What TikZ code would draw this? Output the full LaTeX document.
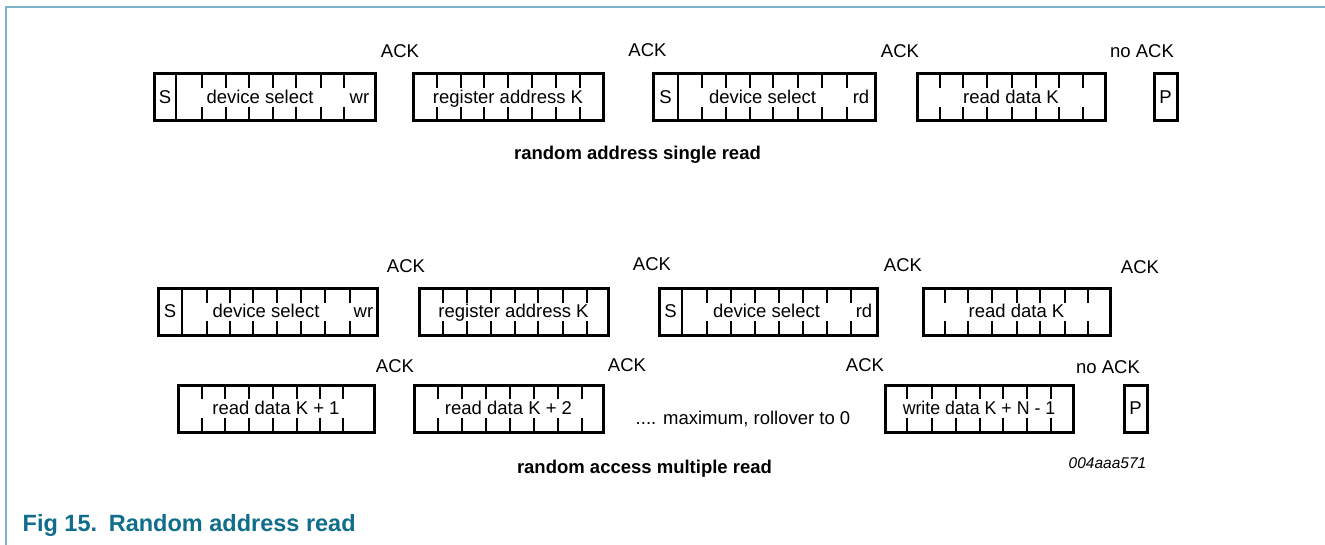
\documentclass[tikz,border=0pt]{standalone}
\usepackage{fontspec}
\setmainfont{Liberation Sans}
\definecolor{framec}{RGB}{125,180,200}
\definecolor{figc}{RGB}{16,110,140}
\newcommand\drawticks[3]{\foreach \xx in {#3}{\draw[divider] (\xx,#1) -- ++(0,14) (\xx,#2) -- ++(0,-14);}}
\begin{document}
\begin{tikzpicture}[x=1pt,y=-1pt,
  fieldbox/.style={draw, line width=3pt, rectangle, inner sep=0pt, outer sep=0pt},
  divider/.style={line width=2.6pt},
  lbl/.style={font=\fontsize{18.5}{22}\selectfont, inner sep=0pt, anchor=base},
  ttl/.style={font=\bfseries\fontsize{18.5}{22}\selectfont, inner sep=0pt, anchor=base},
  code/.style={font=\itshape\fontsize{15.5}{18}\selectfont, inner sep=0pt, anchor=base},
  figttl/.style={font=\bfseries\fontsize{23.5}{28}\selectfont, text=figc, inner sep=0pt, anchor=base west}]
\useasboundingbox (0,0) rectangle (1325,545);
\fill[white] (0,0) rectangle (1325,545);
% frame
\draw[framec, line width=2.2pt] (6,545) -- (6,7) -- (1325,7);

% ---------------- row 1 ----------------
\node[fieldbox, minimum width=221pt, minimum height=47pt] (b11) at (264.5,97.5) {};
\draw[divider] (176,74) -- (176,121);
\drawticks{74}{121}{202,226,249,273,296,321,344}
\node[fieldbox, minimum width=190pt, minimum height=47pt] (b12) at (508,97.5) {};
\drawticks{74}{121}{437,461,484,508,532,556,580}
\node[fieldbox, minimum width=222pt, minimum height=47pt] (b13) at (764,97.5) {};
\draw[divider] (678,74) -- (678,121);
\drawticks{74}{121}{702,726,750,773,798,822,847}
\node[fieldbox, minimum width=188pt, minimum height=47pt] (b14) at (1011,97.5) {};
\drawticks{74}{121}{940,963,987,1012,1036,1059,1083}
\node[fieldbox, minimum width=23pt, minimum height=47pt] (p1) at (1165.5,97.5) {};

\node[lbl] (t11s) at (165,103.5) {S};
\node[lbl] (t11d) at (260,103.5) {device select};
\node[lbl] (t11w) at (359.5,103.5) {wr};
\node[lbl] (t12) at (508,103.5) {register address K};
\node[lbl] (t13s) at (665.5,103.5) {S};
\node[lbl] (t13d) at (762.5,103.5) {device select};
\node[lbl] (t13r) at (861,103.5) {rd};
\node[lbl] (t14) at (1011,103.5) {read data K};
\node[lbl] (t1p) at (1165.5,103.5) {P};

\node[lbl] (a11) at (400,58) {ACK};
\node[lbl] (a12) at (647.5,57) {ACK};
\node[lbl] (a13) at (900,58) {ACK};
\node[lbl] (a14) at (1142,58) {no ACK};

\node[ttl] (title1) at (637.5,160) {random address single read};

% ---------------- row 2 ----------------
\node[fieldbox, minimum width=219pt, minimum height=46pt] (b21) at (267.5,312) {};
\draw[divider] (182,289) -- (182,335);
\drawticks{289}{335}{207,230,253,277,301,325,350}
\node[fieldbox, minimum width=189pt, minimum height=46pt] (b22) at (513.5,312) {};
\drawticks{289}{335}{443,467,491,515,538,563,587}
\node[fieldbox, minimum width=218pt, minimum height=46pt] (b23) at (768,312) {};
\draw[divider] (682,289) -- (682,335);
\drawticks{289}{335}{707,731,755,779,803,827,851}
\node[fieldbox, minimum width=187pt, minimum height=46pt] (b24) at (1016.5,312) {};
\drawticks{289}{335}{945,968,992,1017,1040,1065,1088}

\node[lbl] (t21s) at (170,318) {S};
\node[lbl] (t21d) at (266,318) {device select};
\node[lbl] (t21w) at (363.5,318) {wr};
\node[lbl] (t22) at (513.5,318) {register address K};
\node[lbl] (t23s) at (670.5,318) {S};
\node[lbl] (t23d) at (766.5,318) {device select};
\node[lbl] (t23r) at (864,318) {rd};
\node[lbl] (t24) at (1016.5,318) {read data K};

\node[lbl] (a21) at (406,273) {ACK};
\node[lbl] (a22) at (652,271) {ACK};
\node[lbl] (a23) at (903,272) {ACK};
\node[lbl] (a24) at (1140,274) {ACK};

% ---------------- row 3 ----------------
\node[fieldbox, minimum width=196pt, minimum height=47pt] (b31) at (276,408.5) {};
\drawticks{385}{432}{202,225,249,273,297,320,343}
\node[fieldbox, minimum width=189pt, minimum height=47pt] (b32) at (508.5,408.5) {};
\drawticks{385}{432}{438,462,486,510,534,558,582}
\node[fieldbox, minimum width=188pt, minimum height=47pt] (b33) at (979,408.5) {};
\drawticks{385}{432}{907,932,956,980,1003,1027,1051}
\node[fieldbox, minimum width=23pt, minimum height=47pt] (p3) at (1135.5,408.5) {};

\node[lbl] (t31) at (276,414.5) {read data K + 1};
\node[lbl] (t32) at (508.5,414.5) {read data K + 2};
\node[lbl] (t3m) at (743,424) {.... maximum, rollover to 0};
\node[lbl] (t33) at (979,414.5) {\scalebox{0.96}[1]{write data K + N - 1}};
\node[lbl] (t3p) at (1135.5,414.5) {P};

\node[lbl] (a31) at (395,372) {ACK};
\node[lbl] (a32) at (627,371) {ACK};
\node[lbl] (a33) at (865,371) {ACK};
\node[lbl] (a34) at (1108,373) {no ACK};

\node[ttl] (title2) at (644.5,473) {random access multiple read};
\node[code] (fignum) at (1107.5,468) {004aaa571};

\node[figttl] (figtitle) at (22.5,531) {Fig 15.\hspace{3pt} Random address read};
\end{tikzpicture}
\end{document}
